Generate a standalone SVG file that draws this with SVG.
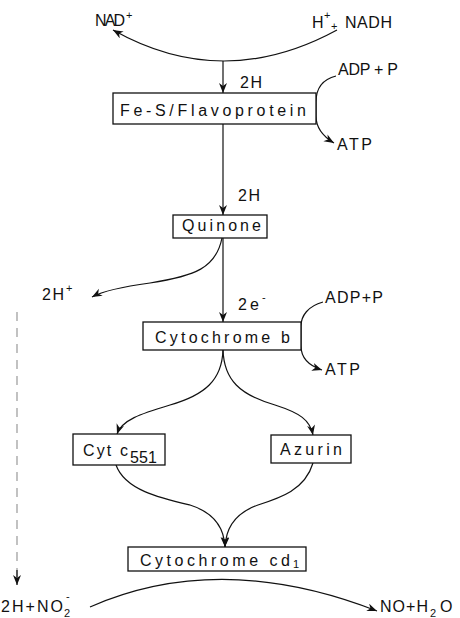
<svg xmlns="http://www.w3.org/2000/svg" width="460" height="618" viewBox="0 0 460 618">
<style>
.box{fill:#fff;stroke:#111;stroke-width:1.3}
.ln{fill:none;stroke:#111;stroke-width:1.2}
.t{font-family:"Liberation Sans",Arial,sans-serif;font-size:16px;fill:#111}
.s{font-family:"Liberation Sans",Arial,sans-serif;font-size:11px;fill:#111}
</style>
<defs>
<marker id="arr" markerUnits="userSpaceOnUse" markerWidth="12" markerHeight="10" refX="10" refY="4" orient="auto">
<path d="M0,0 L10,4 L0,8 L3,4 z" fill="#111"/>
</marker>
</defs>
<rect width="460" height="618" fill="#fff"/>
<g id="connectors">
<path class="ln" d="M337,30 Q223,92 113,30" marker-end="url(#arr)"/>
<path class="ln" d="M223,61 L223,93" marker-end="url(#arr)"/>
<path class="ln" d="M336,76 C320,80 316,92 316,102 L316,116 C316,128 324,137 334,143" marker-end="url(#arr)"/>
<path class="ln" d="M223,124 L223,215" marker-end="url(#arr)"/>
<path class="ln" d="M222,238 C216,268 195,276 150,283 C120,287 103,291 92,297" marker-end="url(#arr)"/>
<path class="ln" d="M223,238 L223,322" marker-end="url(#arr)"/>
<path class="ln" d="M323,302 C308,306 301,316 301,326 L301,346 C301,358 310,366 322,370" marker-end="url(#arr)"/>
<path class="ln" d="M223,350 C222,380 205,395 170,405 C140,414 122,420 117,434" marker-end="url(#arr)"/>
<path class="ln" d="M223,350 C224,380 240,395 275,405 C300,413 310,420 313,435" marker-end="url(#arr)"/>
<path class="ln" d="M116,465 C125,490 160,498 190,505 C212,512 224,525 225,547" marker-end="url(#arr)"/>
<path class="ln" d="M313,463 C305,490 280,498 258,505 C238,512 226,525 225,547" marker-end="url(#arr)"/>
<path class="ln" d="M90,607 Q220,550 377,611" marker-end="url(#arr)"/>
<path d="M17,312 L17,578" fill="none" stroke="#999" stroke-width="1.2" stroke-dasharray="9,7"/>
<path class="ln" d="M17,570 L17,585" marker-end="url(#arr)"/>
</g>
<g id="fes">
<rect class="box" x="113" y="93" width="203" height="31"/>
<text class="t" x="120" y="116" textLength="186" lengthAdjust="spacing">Fe-S/Flavoprotein</text>
</g>
<g id="quinone">
<rect class="box" x="173" y="215" width="94" height="23"/>
<text class="t" x="182" y="231" textLength="79" lengthAdjust="spacing">Quinone</text>
</g>
<g id="cytb">
<rect class="box" x="143" y="322" width="158" height="28"/>
<text class="t" x="155" y="343" textLength="135" lengthAdjust="spacing">Cytochrome b</text>
</g>
<g id="cytc551">
<rect class="box" x="73" y="434" width="92" height="31"/>
<text class="t" x="83" y="456" textLength="45" lengthAdjust="spacing">Cyt c</text>
<text class="t" x="130" y="463" textLength="27" lengthAdjust="spacing">551</text>
</g>
<g id="azurin">
<rect class="box" x="271" y="435" width="80" height="28"/>
<text class="t" x="280" y="455" textLength="62" lengthAdjust="spacing">Azurin</text>
</g>
<g id="cytcd1">
<rect class="box" x="128" y="547" width="178" height="24"/>
<text class="t" x="140" y="566" textLength="150" lengthAdjust="spacing">Cytochrome cd</text>
<text class="s" x="293" y="568">1</text>
</g>
<g id="labels">
<text class="t" x="95" y="26" textLength="30" lengthAdjust="spacing">NAD</text>
<text class="s" x="126" y="19">+</text>
<text class="t" x="312" y="28">H</text>
<text class="s" x="324" y="19">+</text>
<text class="s" x="331" y="30">+</text>
<text class="t" x="345" y="28" textLength="47" lengthAdjust="spacing">NADH</text>
<text class="t" x="240" y="88" textLength="22" lengthAdjust="spacing">2H</text>
<text class="t" x="338" y="75" textLength="60" lengthAdjust="spacing">ADP + P</text>
<text class="t" x="337" y="150" textLength="35" lengthAdjust="spacing">ATP</text>
<text class="t" x="238" y="201" textLength="22" lengthAdjust="spacing">2H</text>
<text class="t" x="42" y="300" textLength="22" lengthAdjust="spacing">2H</text>
<text class="s" x="66" y="292">+</text>
<text class="t" x="238" y="310" textLength="21" lengthAdjust="spacing">2e</text>
<text class="s" x="262" y="301">-</text>
<text class="t" x="325" y="303" textLength="58" lengthAdjust="spacing">ADP+P</text>
<text class="t" x="325" y="375" textLength="35" lengthAdjust="spacing">ATP</text>
<text class="t" x="1" y="612" textLength="62" lengthAdjust="spacing">2H+NO</text>
<text class="s" x="64" y="617">2</text>
<text class="s" x="66" y="600">-</text>
<text class="t" x="380" y="612" textLength="48" lengthAdjust="spacing">NO+H</text>
<text class="s" x="430" y="617">2</text>
<text class="t" x="440" y="612">O</text>
</g>
</svg>
